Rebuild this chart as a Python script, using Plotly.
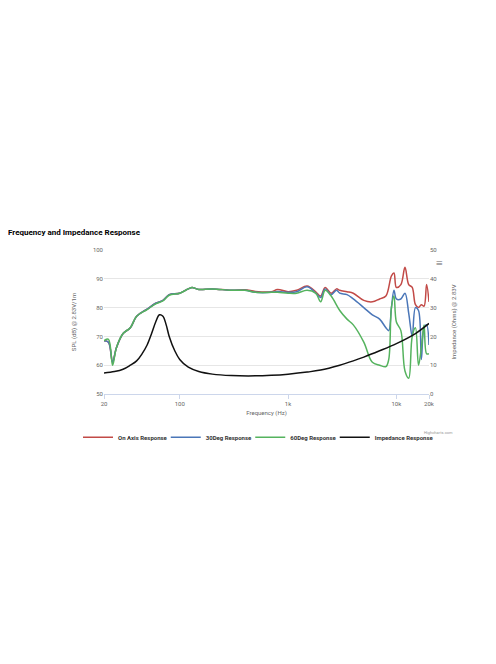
import plotly.graph_objects as go

freq_on = [20, 22, 24, 26, 30, 35, 40, 50, 60, 70, 80, 100, 120, 130, 150, 200, 300, 400, 500, 700, 800,
           1000, 1200, 1500, 1800, 2000, 2200, 2500, 2800, 3000, 3500, 4000, 5000, 6000, 7000, 8000,
           9000, 9500, 10000, 11000, 12000, 13000, 14000, 15000, 16000, 17000, 18000, 19000, 20000]
spl_on = [68.5, 68, 61, 66, 71, 73, 77, 79.5, 81.5, 82.5, 84.5, 85, 86.5, 87, 86.3, 86.5, 86, 86.2, 85.6, 85.5, 86.3,
          85.5, 86, 87.5, 85.5, 84, 87, 85, 86.5, 86, 85.5, 85, 82.5, 82, 83, 84,
          91, 92, 87, 88, 94, 88, 87, 81, 80, 81, 80.5, 88, 82]

freq_30 = [20, 22, 24, 26, 30, 35, 40, 50, 60, 70, 80, 100, 120, 130, 150, 200, 300, 400, 500, 700, 800,
           1000, 1200, 1500, 1800, 2000, 2200, 2500, 2800, 3000, 3500, 4000, 5000, 6000, 7000, 8000,
           8500, 9000, 9500, 10000, 11000, 12000, 13000, 14000, 15000, 16000, 17000, 18000, 19000, 20000]
spl_30 = [68.5, 68, 61, 66, 71, 73, 77, 79.5, 81.5, 82.5, 84.5, 85, 86.5, 87, 86.3, 86.5, 86, 86, 85.3, 85.3, 85.6,
          85.3, 85.5, 87.2, 85, 83.5, 86.5, 84.5, 86, 85, 84.5, 83, 80, 77.5, 76, 73,
          72, 80, 86, 83, 83, 85, 78, 70, 80, 79, 62, 73, 74, 67]

freq_60 = [20, 22, 24, 26, 30, 35, 40, 50, 60, 70, 80, 100, 120, 130, 150, 200, 300, 400, 500, 700, 800,
           1000, 1200, 1500, 1800, 2000, 2200, 2500, 3000, 3500, 4000, 5000, 6000, 7000, 8000,
           8500, 9000, 9500, 10000, 11000, 12000, 13000, 14000, 15000, 16000, 17000, 18000, 19000, 20000]
spl_60 = [68.5, 69, 60, 66, 71, 73, 77, 79.3, 81.3, 82.3, 84.3, 85, 86.5, 87, 86.3, 86.5, 86, 86, 85.3, 85.3, 85.3,
          85, 85, 86, 85, 82, 86, 84, 79, 76, 74, 68, 61, 60, 59.5,
          62, 80, 84, 75, 72, 58, 55.5, 70, 73, 60, 66, 74, 64, 64]

freq_imp = [20, 25, 30, 35, 40, 45, 50, 55, 60, 65, 70, 75, 80, 90, 100, 120, 150, 200, 300, 500,
            700, 1000, 1500, 2000, 3000, 4000, 5000, 7000, 10000, 15000, 20000]
imp = [7.3, 7.8, 8.6, 10, 11.5, 14, 17, 21, 25, 27.5, 27, 24, 20, 15, 12, 9.3, 7.8, 6.9, 6.4, 6.3,
       6.5, 6.9, 7.6, 8.3, 10, 11.5, 12.8, 15, 17.5, 21, 24.5]

fig = go.Figure()
series = [("On Axis Response", freq_on, spl_on, "#c24a47", "y", "legend"),
          ("30Deg Response", freq_30, spl_30, "#4a76b8", "y", "legend2"),
          ("60Deg Response", freq_60, spl_60, "#55b35e", "y", "legend3"),
          ("Impedance Response", freq_imp, imp, "#111111", "y2", "legend4")]
for name, x, y, c, ax, lg in series:
    fig.add_trace(go.Scatter(x=x, y=y, name=name, mode="lines", yaxis=ax, legend=lg, showlegend=True,
                             line=dict(color=c, width=1.5, shape="spline")))

tickfont = dict(size=6, color="#666666")
legfont = dict(size=6, color="#333333", weight="bold")
leg = lambda xpos: dict(orientation="h", x=xpos, xanchor="left", y=-0.2, yanchor="top",
                        itemwidth=30, font=legfont, bgcolor="rgba(0,0,0,0)")
fig.update_layout(
    width=496, height=664, paper_bgcolor="white", plot_bgcolor="white",
    showlegend=True,
    margin=dict(l=96, r=75, t=242, b=278),
    font=dict(family="Roboto", size=6, color="#333333"),
    xaxis=dict(type="log", range=[1.30103, 4.30103], tickvals=[20, 100, 1000, 10000, 20000],
               ticktext=["20", "100", "1k", "10k", "20k"], tickfont=tickfont,
               showgrid=False, showline=True, linecolor="#ccd6eb", ticks="outside",
               tickcolor="#ccd6eb", ticklen=4,
               title=dict(text="Frequency (Hz)", font=dict(size=6, color="#666666"), standoff=4)),
    yaxis=dict(range=[50, 100], dtick=10, tickfont=tickfont, gridcolor="#e6e6e6", zeroline=False,
               title=dict(text="SPL (dB) @ 2.83V/1m", font=dict(size=6, color="#666666"))),
    yaxis2=dict(range=[0, 50], dtick=10, overlaying="y", side="right", tickfont=tickfont,
                showgrid=False, zeroline=False,
                title=dict(text="Impedance (Ohms) @ 2.83V", font=dict(size=6, color="#666666"))),
    legend=leg(-0.08), legend2=leg(0.19), legend3=leg(0.45), legend4=leg(0.71),
    title=dict(text="<b>Frequency and Impedance Response</b>", xref="container", x=0.0, xanchor="left",
               y=1 - 224 / 664, yanchor="middle", font=dict(size=8, color="#000000")),
)
fig.add_annotation(text="≡", xref="paper", yref="paper", x=1.05, y=0.97, showarrow=False,
                   font=dict(size=12, color="#666666"))
fig.add_annotation(text="Highcharts.com", xref="paper", yref="paper", x=1.08, y=-0.3, showarrow=False,
                   xanchor="right", font=dict(size=4, color="#999999"))
fig.write_html("out.html")
